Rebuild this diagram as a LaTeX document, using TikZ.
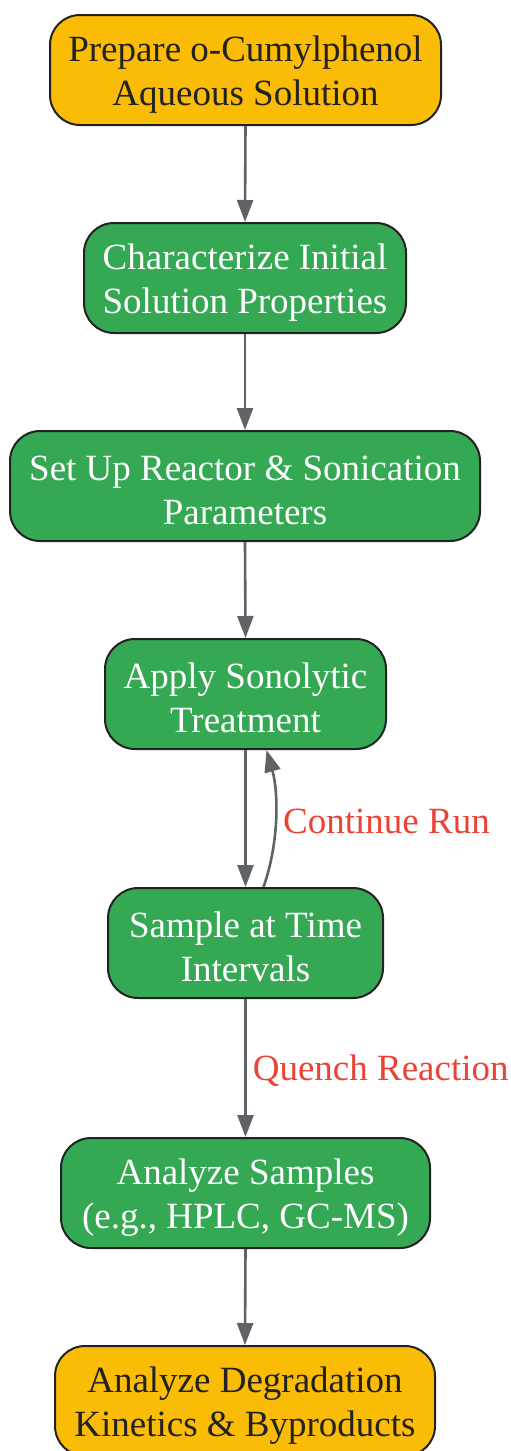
\documentclass[tikz,border=0pt]{standalone}
\usepackage{fontspec}
\setmainfont{Liberation Serif}
\usetikzlibrary{arrows.meta}
\definecolor{orng}{HTML}{FBBC05}
\definecolor{grn}{HTML}{34A853}
\definecolor{edgec}{HTML}{5F6368}
\definecolor{lblc}{HTML}{EA4335}
\definecolor{bord}{HTML}{222222}
\newcommand{\toppad}{\rule{0pt}{34pt}}
\tikzset{
  box/.style={draw=bord, line width=2pt, rounded corners=30pt, minimum height=110pt, align=center, inner sep=0pt,
    font=\fontsize{37}{44}\selectfont},
  obox/.style={box, fill=orng, text=bord},
  gbox/.style={box, fill=grn, text=white},
  conn/.style={draw=edgec, line width=2.6pt, -{Triangle[length=22pt,width=16pt]}},
  lbl/.style={text=lblc, font=\fontsize{37}{44}\selectfont, anchor=west, inner sep=0pt}
}
\begin{document}
\begin{tikzpicture}[x=1pt,y=1pt]
\useasboundingbox (0,0) rectangle (511,-1451);
\node[obox, minimum width=391pt] (n1) at (245.5,-70) {\toppad Prepare o-Cumylphenol\\Aqueous Solution};
\node[gbox, minimum width=322pt] (n2) at (245,-278) {\toppad Characterize Initial\\Solution Properties};
\node[gbox, minimum width=470pt] (n3) at (245,-486) {\toppad Set Up Reactor \& Sonication\\Parameters};
\node[gbox, minimum width=281pt] (n4) at (245.5,-694) {\toppad Apply Sonolytic\\Treatment};
\node[gbox, minimum width=275pt] (n5) at (245.5,-943) {\toppad Sample at Time\\Intervals};
\node[gbox, minimum width=369pt] (n6) at (245.5,-1193) {\toppad Analyze Samples\\(e.g., HPLC, GC-MS)};
\node[obox, minimum width=380pt] (n7) at (245,-1401) {\toppad Analyze Degradation\\Kinetics \& Byproducts};
\draw[conn] (n1.south) -- (n2.north);
\draw[conn] (n2.south) -- (n3.north);
\draw[conn] (n3.south) -- (n4.north);
\draw[conn] (n4.south) -- (n5.north);
\coordinate (s5) at ([xshift=18pt]n5.north);
\coordinate (e4) at ([xshift=21pt]n4.south);
\draw[conn] (s5) .. controls (280,-840) and (278,-790) .. (e4);
\draw[conn] (n5.south) -- node[lbl, pos=0.52, xshift=6pt] (q) {Quench Reaction} (n6.north);
\node[lbl] (c) at (283,-821) {Continue Run};
\draw[conn] (n6.south) -- (n7.north);
\end{tikzpicture}
\end{document}
